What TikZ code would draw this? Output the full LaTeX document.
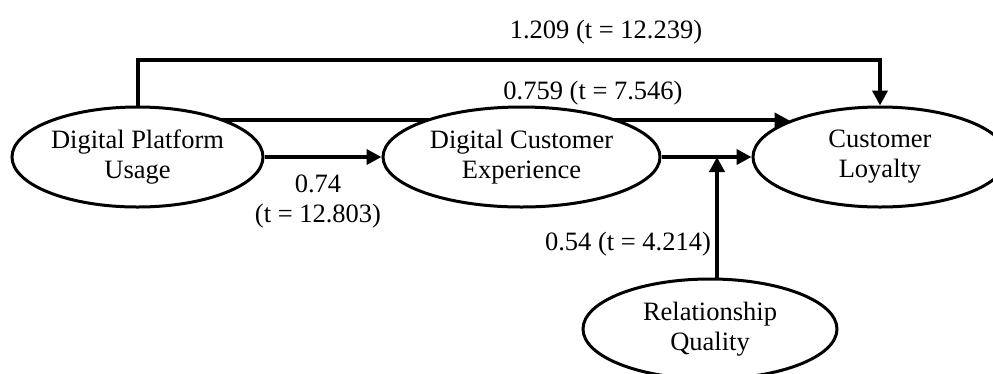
\documentclass[tikz,border=0pt]{standalone}
\usepackage{fontspec}
\setmainfont{Liberation Serif}
\usetikzlibrary{arrows.meta,shapes.geometric}
\pgfdeclarelayer{bg}
\pgfsetlayers{bg,main}
\begin{document}
\begin{tikzpicture}[x=1pt,y=-1pt,
  every node/.style={font=\fontsize{26.5}{30}\selectfont},
  latent/.style={ellipse,draw,line width=3pt,fill=white,inner sep=0pt,align=center,minimum height=100pt},
  arr/.style={line width=4pt,-{Triangle[length=15pt,width=15pt]}},
  lbl/.style={anchor=base,inner sep=0pt,align=center}]
\useasboundingbox (0,0) rectangle (993,373);
\node[latent,minimum width=251pt] (dpu) at (137.5,157) {Digital Platform\\Usage};
\node[latent,minimum width=277pt] (dce) at (521.5,157) {Digital Customer\\Experience};
\node[latent,minimum width=254pt] (cl) at (880,157) {Customer\\Loyalty};
\node[latent,minimum width=254pt] (rq) at (710,329) {Relationship\\Quality};
\coordinate (tl) at (500,60);
\coordinate (j) at (717,157);
\begin{pgfonlayer}{bg}
\draw[arr] (dpu.north) |- (tl) -| (cl.north);
\draw[arr] (dpu.center |- cl.158.9) -- (cl.158.9);
\draw[arr] (dpu.east) -- (dce.west);
\draw[line width=4pt] (dce.east) -- (j);
\draw[arr] (j) -- (cl.west);
\draw[arr] (rq.center -| j) -- (j);
\end{pgfonlayer}
\node[lbl] (l1) at (606,38) {1.209 (t = 12.239)};
\node[lbl] (l2) at (593,99) {0.759 (t = 7.546)};
\node[lbl] (l3) at (318,222) {0.74\\(t = 12.803)};
\node[lbl] (l4) at (628,250) {0.54 (t = 4.214)};
\end{tikzpicture}
\end{document}
